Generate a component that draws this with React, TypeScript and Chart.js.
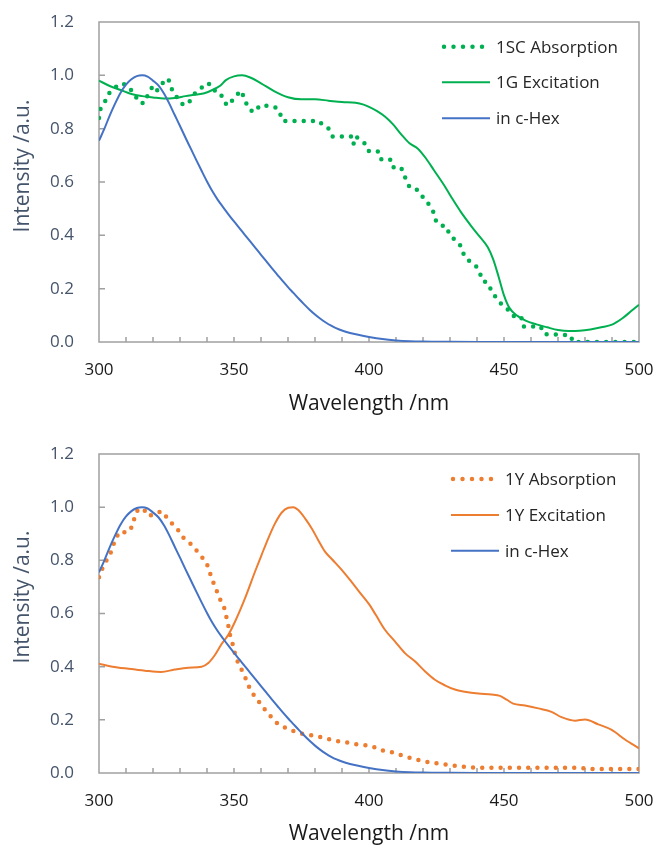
import React, { useEffect, useRef } from "react";
import { Chart, registerables } from "chart.js";

Chart.register(...registerables);

const GREEN = "#00B050";
const ORANGE = "#ED7D31";
const BLUE = "#4472C4";
const AXIS = "#A0A0A0";
const YTEXT = "#44546A";
const XTEXT = "#1A1A1A";
const FONT = "'Open Sans', 'Noto Sans', sans-serif";

// axis settings
const X_MIN = 300;
const X_MAX = 500;
const X_LABEL_STEP = 50;
const X_MINOR_TICKS = [310, 320, 330, 340, 350, 360, 370, 380, 390, 400, 410, 420, 430, 440, 450, 460, 470, 480, 490];
const Y_MIN = 0;
const Y_MAX = 1.2;
const Y_STEP = 0.2;
const Y_MINOR_TICKS = [0.2, 0.4, 0.6, 0.8, 1.0];

// in c-Hex (shared by both panels)
const hexX = [300, 302, 304, 306, 308, 310, 312, 314, 316, 318, 320, 322, 324, 326, 328, 330, 332, 334, 336, 338, 340, 342, 344, 346, 348, 350, 352, 354, 356, 358, 360, 362, 364, 366, 368, 370, 372, 374, 376, 378, 380, 382, 384, 386, 388, 390, 393, 396, 400, 405, 410, 415, 420, 430, 440, 460, 480, 500];
const hexY = [0.755, 0.8, 0.85, 0.895, 0.935, 0.965, 0.985, 0.997, 1.0, 0.995, 0.98, 0.962, 0.933, 0.895, 0.852, 0.81, 0.767, 0.725, 0.683, 0.642, 0.602, 0.565, 0.533, 0.505, 0.478, 0.452, 0.427, 0.402, 0.377, 0.352, 0.327, 0.302, 0.277, 0.253, 0.229, 0.206, 0.184, 0.162, 0.141, 0.121, 0.103, 0.087, 0.073, 0.061, 0.051, 0.043, 0.034, 0.027, 0.019, 0.011, 0.006, 0.003, 0.0015, 0.0005, 0, 0, 0, 0];

// 1G Excitation
const excGX = [300, 304, 308, 312, 316, 320, 324, 328, 332, 336, 339, 342, 345, 347, 350, 353, 356, 360, 365, 370, 375, 380, 385, 390, 395, 398, 400, 403, 406, 409, 412, 415, 418, 421, 424, 428, 431, 434, 438, 441, 444, 446, 448, 450, 452, 455, 458, 462, 466, 470, 474, 478, 482, 486, 490, 494, 497, 500];
const excGY = [0.98, 0.96, 0.945, 0.93, 0.922, 0.917, 0.913, 0.915, 0.922, 0.928, 0.933, 0.945, 0.962, 0.982, 0.996, 1.0, 0.992, 0.97, 0.94, 0.918, 0.91, 0.91, 0.905, 0.9, 0.897, 0.89, 0.882, 0.866, 0.845, 0.815, 0.778, 0.745, 0.726, 0.69, 0.645, 0.585, 0.535, 0.488, 0.433, 0.395, 0.355, 0.31, 0.245, 0.175, 0.128, 0.098, 0.08, 0.066, 0.055, 0.045, 0.041, 0.042, 0.047, 0.055, 0.065, 0.09, 0.115, 0.14];

// 1SC Absorption
const absGX = [300, 300.5, 302, 303, 304.5, 306.5, 308.5, 311, 312.5, 314, 315.5, 317, 318, 320, 321.5, 323, 324.7, 325.7, 326.5, 327.7, 329.3, 331, 332.8, 334.3, 335.8, 337.7, 339.5, 341, 342.3, 344.9, 346, 347.5, 349.3, 352.5, 353.7, 354.7, 356.2, 358, 359.4, 362.7, 365.6, 367, 368, 381.5, 383.2, 385.4, 386.5, 393.3, 394.2, 395.1, 397, 399.1, 400, 403.4, 404.3, 407.8, 408.6, 411.8, 413.1, 413.9, 415.2, 417.6, 419.5, 421.3, 422.6, 424, 424.8, 426.6, 428.4, 430, 431.8, 433.7, 435.5, 437.8, 439.6, 441.1, 442, 444.2, 445.4, 447.9, 449.7, 451.6, 453.1, 454, 456.5, 457.1, 463.6, 464.8, 474.7, 475.5, 500];
const absGY = [0.84, 0.873, 0.895, 0.922, 0.943, 0.958, 0.97, 0.958, 0.936, 0.914, 0.895, 0.898, 0.925, 0.961, 0.943, 0.963, 0.986, 0.986, 0.96, 0.93, 0.914, 0.891, 0.891, 0.914, 0.936, 0.95, 0.97, 0.967, 0.945, 0.935, 0.908, 0.886, 0.905, 0.943, 0.918, 0.891, 0.868, 0.863, 0.886, 0.886, 0.879, 0.858, 0.829, 0.829, 0.81, 0.798, 0.771, 0.771, 0.741, 0.771, 0.756, 0.739, 0.715, 0.714, 0.685, 0.685, 0.655, 0.655, 0.626, 0.601, 0.579, 0.573, 0.548, 0.53, 0.508, 0.485, 0.455, 0.436, 0.436, 0.401, 0.383, 0.364, 0.318, 0.298, 0.285, 0.258, 0.23, 0.22, 0.189, 0.155, 0.135, 0.12, 0.11, 0.089, 0.089, 0.058, 0.058, 0.03, 0.025, 0.0, 0.0];

// 1Y Absorption
const absYX = [300, 301.2, 302.7, 304.2, 305.3, 306.4, 308.1, 310.2, 312.2, 313.1, 314.3, 316.4, 318.3, 320.7, 323.2, 325.4, 327.5, 329.8, 331.6, 334.1, 336.3, 338.3, 340.2, 341.2, 342.3, 343.6, 344.8, 346.4, 347.2, 347.9, 348.5, 349.4, 350.1, 351.1, 352.5, 354.1, 355.3, 356.8, 358.8, 360.9, 363, 365.2, 367.7, 370.5, 373.6, 376.9, 380, 383.1, 386.2, 389.3, 392.3, 395.4, 398.5, 401.6, 404.7, 407.8, 410.8, 413.9, 417, 420.1, 423.2, 426.3, 429.4, 432.5, 435.5, 439, 460, 478, 482, 500];
const absYY = [0.736, 0.768, 0.798, 0.825, 0.858, 0.888, 0.91, 0.903, 0.925, 0.958, 0.989, 0.995, 0.966, 0.974, 0.985, 0.958, 0.933, 0.908, 0.88, 0.861, 0.835, 0.81, 0.78, 0.749, 0.718, 0.685, 0.654, 0.62, 0.586, 0.554, 0.52, 0.489, 0.458, 0.424, 0.395, 0.361, 0.33, 0.301, 0.274, 0.245, 0.22, 0.193, 0.176, 0.164, 0.151, 0.145, 0.139, 0.133, 0.124, 0.118, 0.114, 0.108, 0.105, 0.098, 0.085, 0.08, 0.07, 0.061, 0.051, 0.045, 0.038, 0.035, 0.03, 0.026, 0.023, 0.02, 0.02, 0.02, 0.015, 0.015];

// 1Y Excitation
const excYX = [300, 305, 311, 317, 323, 328, 333, 338, 340.5, 343, 345.4, 347.9, 350.4, 354.1, 357.8, 360.2, 362.7, 365.2, 367.7, 370.1, 372, 373.8, 376.3, 378.8, 381.2, 383.7, 386.2, 389.9, 393.6, 397.3, 400, 402.5, 405.9, 409.6, 413.3, 417, 420.7, 424.4, 428.1, 431.8, 435.5, 440.5, 445.4, 448.5, 451, 453.4, 457.8, 462.7, 467.6, 471.3, 476.3, 480, 484.9, 489.9, 494.8, 500];
const excYY = [0.411, 0.4, 0.392, 0.385, 0.38, 0.389, 0.396, 0.4, 0.414, 0.445, 0.485, 0.52, 0.57, 0.658, 0.758, 0.82, 0.883, 0.939, 0.98, 0.998, 1.0, 0.989, 0.958, 0.92, 0.876, 0.833, 0.805, 0.764, 0.718, 0.67, 0.635, 0.595, 0.539, 0.495, 0.451, 0.42, 0.383, 0.351, 0.33, 0.314, 0.306, 0.299, 0.295, 0.29, 0.276, 0.261, 0.254, 0.243, 0.23, 0.21, 0.197, 0.201, 0.183, 0.162, 0.126, 0.093];

const toPts = (xs: number[], ys: number[]) => xs.map((x, i) => ({ x, y: ys[i] }));

const DOT_DASH = [0, 9.2];

function lineDs(label: string, xs: number[], ys: number[], color: string, dotted: boolean, order: number) {
  return {
    label,
    data: toPts(xs, ys),
    borderColor: color,
    backgroundColor: color,
    borderWidth: dotted ? 4.5 : 2,
    borderDash: dotted ? DOT_DASH : [],
    borderCapStyle: dotted ? "round" : "butt",
    borderJoinStyle: "round",
    pointRadius: 0,
    pointHoverRadius: 0,
    tension: dotted ? 0 : 0.4,
    cubicInterpolationMode: dotted ? "default" : "monotone",
    fill: false,
    order,
    dotted,
  };
}

const framePlugin = {
  id: "frameDeco",
  beforeDatasetsDraw(chart: any, _args: any, opts: any) {
    const { ctx, chartArea: a, scales } = chart;
    ctx.save();
    ctx.strokeStyle = AXIS;
    ctx.lineWidth = 1.5;
    ctx.strokeRect(a.left, a.top, a.right - a.left, a.bottom - a.top);
    ctx.beginPath();
    for (const v of X_MINOR_TICKS) {
      const px = scales.x.getPixelForValue(v);
      ctx.moveTo(px, a.bottom);
      ctx.lineTo(px, a.bottom - 5);
    }
    for (const v of Y_MINOR_TICKS) {
      const py = scales.y.getPixelForValue(v);
      ctx.moveTo(a.left, py);
      ctx.lineTo(a.left + 6, py);
    }
    ctx.stroke();
    ctx.restore();
  },
  afterDraw(chart: any, _args: any, opts: any) {
    const { ctx } = chart;
    ctx.save();
    // y axis title
    ctx.translate(opts.yTitleX, opts.yTitleY);
    ctx.rotate(-Math.PI / 2);
    ctx.font = `21px ${FONT}`;
    ctx.fillStyle = YTEXT;
    ctx.textAlign = "center";
    ctx.textBaseline = "middle";
    ctx.fillText(opts.yTitle, 0, 0);
    ctx.restore();

    // legend
    ctx.save();
    const dss = chart.data.datasets;
    dss.forEach((ds: any, i: number) => {
      const y = opts.legendY[i];
      const x0 = opts.legendX;
      const x1 = x0 + 48;
      ctx.beginPath();
      ctx.strokeStyle = ds.borderColor;
      if (ds.dotted) {
        ctx.lineWidth = 4.5;
        ctx.lineCap = "round";
        ctx.setLineDash([0, 9.5]);
        ctx.moveTo(x0 + 2, y);
        ctx.lineTo(x1, y);
      } else {
        ctx.lineWidth = 2;
        ctx.lineCap = "butt";
        ctx.setLineDash([]);
        ctx.moveTo(x0, y);
        ctx.lineTo(x1, y);
      }
      ctx.stroke();
      ctx.setLineDash([]);
      ctx.font = `17px ${FONT}`;
      ctx.fillStyle = "#262626";
      ctx.textAlign = "left";
      ctx.textBaseline = "middle";
      ctx.fillText(ds.label, x1 + 6, y + 1);
    });
    ctx.restore();
  },
};

function makeConfig(datasets: any[], p: { padTop: number; xHeight: number; titlePad: number; yTitleY: number; legendX: number; legendY: number[] }) {
  return {
    type: "line",
    data: { datasets },
    plugins: [framePlugin],
    options: {
      responsive: false,
      animation: false,
      devicePixelRatio: 1,
      events: [],
      layout: { padding: { top: p.padTop, right: 15, left: 0, bottom: 0 } },
      font: { family: FONT },
      scales: {
        x: {
          type: "linear",
          min: X_MIN,
          max: X_MAX,
          grid: { display: false, drawTicks: false },
          border: { display: false },
          ticks: {
            stepSize: X_LABEL_STEP,
            padding: 18,
            color: XTEXT,
            font: { size: 17, family: FONT },
            maxRotation: 0,
            autoSkip: false,
          },
          title: {
            display: true,
            text: "Wavelength /nm",
            color: XTEXT,
            font: { size: 21, family: FONT },
            padding: { top: 0, bottom: p.titlePad },
          },
          afterFit: (s: any) => {
            s.height = p.xHeight;
            s.paddingLeft = 0;
            s.paddingRight = 0;
          },
        },
        y: {
          min: Y_MIN,
          max: Y_MAX,
          grid: { display: false, drawTicks: false },
          border: { display: false },
          ticks: {
            stepSize: Y_STEP,
            padding: 25,
            color: YTEXT,
            font: { size: 17, family: FONT },
            callback: (v: any) => Number(v).toFixed(1),
          },
          afterFit: (s: any) => {
            s.width = 99;
            s.paddingTop = 0;
            s.paddingBottom = 0;
          },
        },
      },
      plugins: {
        legend: { display: false },
        tooltip: { enabled: false },
        frameDeco: {
          yTitle: "Intensity /a.u.",
          yTitleX: 23,
          yTitleY: p.yTitleY,
          legendX: p.legendX,
          legendY: p.legendY,
        },
      },
    },
  };
}

function ChartCanvas({ config, top, height }: { config: any; top: number; height: number }) {
  const ref = useRef<HTMLCanvasElement>(null);
  useEffect(() => {
    const chart = new Chart(ref.current as HTMLCanvasElement, config);
    return () => chart.destroy();
  }, []);
  return (
    <canvas
      ref={ref}
      width={654}
      height={height}
      style={{ position: "absolute", left: 0, top, width: 654, height, display: "block" }}
    />
  );
}

export default function App() {
  const topCfg = makeConfig(
    [
      lineDs("1SC Absorption", absGX, absGY, GREEN, true, 2),
      lineDs("1G Excitation", excGX, excGY, GREEN, false, 1),
      lineDs("in c-Hex", hexX, hexY, BLUE, false, 0),
    ],
    { padTop: 22, xHeight: 82, titlePad: 7, yTitleY: 166, legendX: 442, legendY: [46.7, 82.3, 118.3] }
  );
  const botCfg = makeConfig(
    [
      lineDs("1Y Absorption", absYX, absYY, ORANGE, true, 2),
      lineDs("1Y Excitation", excYX, excYY, ORANGE, false, 1),
      lineDs("in c-Hex", hexX, hexY, BLUE, false, 0),
    ],
    { padTop: 30, xHeight: 76, titlePad: 2, yTitleY: 173, legendX: 451, legendY: [55, 91, 126.7] }
  );
  return (
    <div style={{ position: "absolute", left: 0, top: 0, width: 654, height: 849, background: "#fff" }}>
      <ChartCanvas config={topCfg} top={0} height={424} />
      <ChartCanvas config={botCfg} top={424} height={425} />
    </div>
  );
}
